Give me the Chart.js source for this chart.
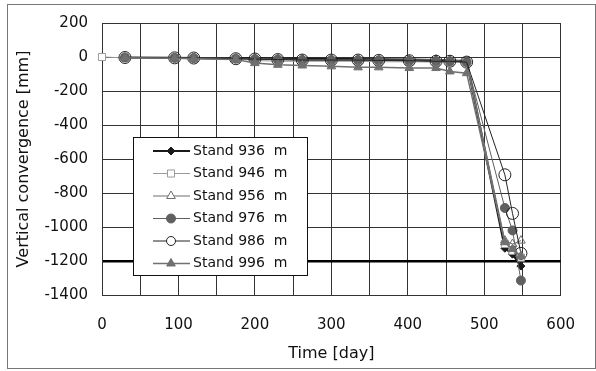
<!DOCTYPE html>
<html>
<head>
<meta charset="utf-8">
<script src="https://cdn.jsdelivr.net/npm/chart.js@4"></script>
<style>
  html, body { margin: 0; padding: 0; background: #fff; }
  #wrap { width: 596px; height: 371px; }
</style>
</head>
<body>
<div id="wrap"><canvas id="grafico" width="596" height="371"></canvas></div>
<script>
// days of measurement
var dias = [30, 95, 120, 175, 200, 230, 262, 300, 335, 362, 402, 437, 455, 477, 527, 537, 548];
var dias946 = [0, 30, 95, 120, 175, 200, 230, 262, 300, 335, 362, 402, 437, 455, 477, 527, 537, 548];

// vertical convergence [mm]
var stand936 = [-3, -5, -6, -8, -8, -10, -10, -12, -12, -14, -15, -18, -20, -25, -1125, -1160, -1230];
var stand946 = [0, -5, -8, -10, -12, -20, -25, -25, -25, -25, -28, -28, -30, -30, -32, -1100, -1140, -1180];
var stand956 = [-3, -5, -6, -8, -10, -12, -15, -15, -15, -18, -18, -15, -18, -25, -1080, -1100, -1080];
var stand976 = [-3, -5, -6, -10, -12, -15, -18, -18, -18, -20, -22, -25, -25, -30, -888, -1020, -1315];
var stand986 = [-3, -5, -6, -10, -12, -15, -18, -18, -18, -20, -22, -25, -25, -30, -693, -920, -1155];
var stand996 = [-5, -8, -10, -15, -36, -46, -50, -55, -61, -61, -65, -65, -85, -95, -1090, -1130, -1170];

var etiquetas = ['Stand 936  m', 'Stand 946  m', 'Stand 956  m', 'Stand 976  m', 'Stand 986  m', 'Stand 996  m'];

function puntos(xs, ys) {
    return xs.map(function (x, i) { return { x: x, y: ys[i] }; });
}

var fuente = '"DejaVu Sans", Verdana, sans-serif';
var hueco = 'rgba(255,255,255,0)';

var series = [
    { data: puntos(dias, stand936), borderColor: '#1a1a1a', borderWidth: 2.2, pointStyle: 'rectRot', pointRadius: 4, pointBackgroundColor: '#1a1a1a', pointBorderColor: '#1a1a1a', order: 6 },
    { data: puntos(dias946, stand946), borderColor: '#9a9a9a', borderWidth: 1, pointStyle: 'rect', pointRadius: 5, pointBackgroundColor: '#fff', pointBorderColor: '#9a9a9a', order: 5, clip: false },
    { data: puntos(dias, stand956), borderColor: '#6e6e6e', borderWidth: 1, pointStyle: 'triangle', pointRadius: 5, pointBackgroundColor: hueco, pointBorderColor: '#6e6e6e', order: 4 },
    { data: puntos(dias, stand976), borderColor: '#606060', borderWidth: 1, pointStyle: 'circle', pointRadius: 4.5, pointBackgroundColor: '#606060', pointBorderColor: '#606060', order: 3 },
    { data: puntos(dias, stand986), borderColor: '#222', borderWidth: 1, pointStyle: 'circle', pointRadius: 6, pointBackgroundColor: hueco, pointBorderColor: '#222', order: 2 },
    { data: puntos(dias, stand996), borderColor: '#707070', borderWidth: 1.5, pointStyle: 'triangle', pointRadius: 5, pointBackgroundColor: '#707070', pointBorderColor: '#707070', order: 1 }
];
series.forEach(function (s, i) {
    s.label = etiquetas[i];
    s.pointBorderWidth = 1;
    s.fill = false;
    s.tension = 0;
});

// legend box inside the plot + outer frame
var extras = {
    id: 'extras',
    afterDraw: function (chart) {
        var c = chart.ctx;
        c.save();
        c.strokeStyle = '#777';
        c.lineWidth = 1;
        c.strokeRect(7.5, 4.5, 588, 364);

        var lx = 133, ly = 137, lw = 174, lh = 138;
        c.fillStyle = '#fff';
        c.fillRect(lx, ly, lw, lh);
        c.strokeStyle = '#111';
        c.strokeRect(lx + 0.5, ly + 0.5, lw, lh);
        c.textBaseline = 'middle';
        chart.data.datasets.forEach(function (ds, i) {
            var y = 151 + i * 22.5;
            c.strokeStyle = ds.borderColor;
            c.lineWidth = ds.borderWidth;
            c.beginPath();
            c.moveTo(153, y);
            c.lineTo(190, y);
            c.stroke();
            c.fillStyle = ds.pointBackgroundColor === hueco ? '#fff' : ds.pointBackgroundColor;
            c.strokeStyle = ds.pointBorderColor;
            c.lineWidth = 1;
            Chart.helpers.drawPoint(c, {
                pointStyle: ds.pointStyle,
                radius: ds.pointRadius > 5 ? 4.5 : ds.pointRadius,
                rotation: 0,
                borderWidth: 1
            }, 171, y);
            c.fillStyle = '#111';
            c.font = '14px ' + fuente;
            c.fillText(ds.label, 193, y);
        });
        c.restore();
    }
};

var ctx = document.getElementById('grafico');
var grafico = new Chart(ctx, {
    type: 'line',
    data: { datasets: series },
    options: {
        responsive: false,
        animation: false,
        layout: { padding: { left: 8, right: 28, top: 21, bottom: 8 } },
        plugins: { legend: { display: false }, tooltip: { enabled: false } },
        scales: {
            x: {
                type: 'linear',
                min: 0,
                max: 600,
                afterFit: function (s) { s.height = 68; },
                ticks: {
                    stepSize: 50,
                    color: '#111',
                    font: { size: 15, family: fuente },
                    padding: 21,
                    maxRotation: 0,
                    autoSkip: false,
                    callback: function (v) { return v % 100 === 0 ? String(v) : ''; }
                },
                grid: { color: '#333', drawTicks: false },
                border: { color: '#333' },
                title: { display: true, text: 'Time [day]', color: '#111', font: { size: 16, family: fuente }, padding: { top: 0, bottom: 0 } }
            },
            y: {
                min: -1400,
                max: 200,
                afterFit: function (s) { s.width = 94; },
                ticks: {
                    stepSize: 200,
                    color: '#111',
                    font: { size: 15, family: fuente },
                    padding: 14,
                    callback: function (v) { return String(v); }
                },
                grid: {
                    drawTicks: false,
                    color: function (c) { return c.tick && c.tick.value === -1200 ? '#000' : '#333'; },
                    lineWidth: function (c) { return c.tick && c.tick.value === -1200 ? 2.5 : 1; }
                },
                border: { color: '#333' },
                title: { display: true, text: 'Vertical convergence [mm]', color: '#111', font: { size: 16, family: fuente }, padding: { top: 6, bottom: 0 } }
            }
        }
    },
    plugins: [extras]
});
</script>
</body>
</html>
